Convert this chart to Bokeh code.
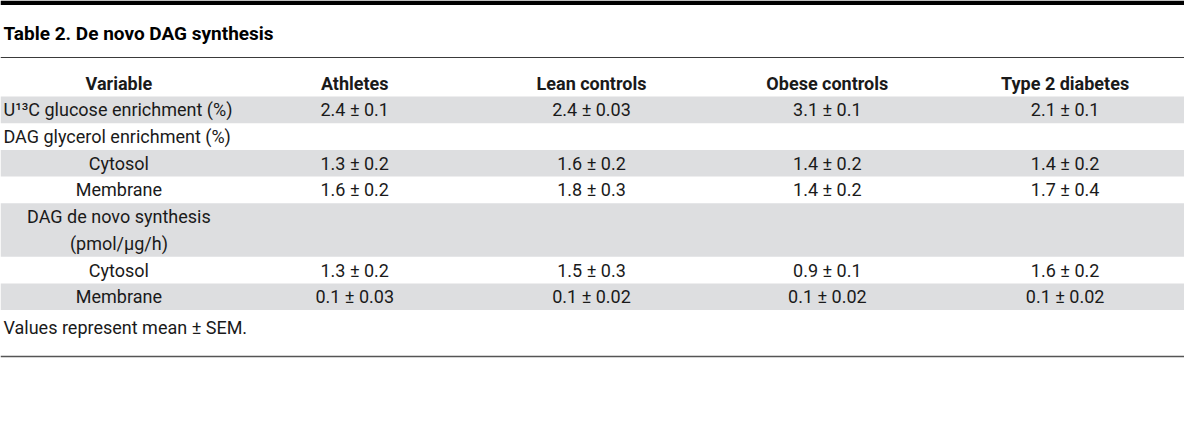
from bokeh.plotting import figure
from bokeh.models import Range1d, ColumnDataSource
from bokeh.core.properties import value
from bokeh.embed import file_html
from bokeh.resources import INLINE

# ---- data ----
title = "Table 2. De novo DAG synthesis"
header_first = "Variable"
groups = ["Athletes", "Lean controls", "Obese controls", "Type 2 diabetes"]
variables = ["U\u00b9\u00b3C glucose enrichment (%)", "DAG glycerol enrichment (%)",
             "Cytosol", "Membrane", "DAG de novo synthesis\n(pmol/\u00b5g/h)",
             "Cytosol", "Membrane"]
var_level = [0, 0, 1, 1, 1, 1, 1]
athletes = ["2.4 \u00b1 0.1", "", "1.3 \u00b1 0.2", "1.6 \u00b1 0.2", "", "1.3 \u00b1 0.2", "0.1 \u00b1 0.03"]
lean = ["2.4 \u00b1 0.03", "", "1.6 \u00b1 0.2", "1.8 \u00b1 0.3", "", "1.5 \u00b1 0.3", "0.1 \u00b1 0.02"]
obese = ["3.1 \u00b1 0.1", "", "1.4 \u00b1 0.2", "1.4 \u00b1 0.2", "", "0.9 \u00b1 0.1", "0.1 \u00b1 0.02"]
t2d = ["2.1 \u00b1 0.1", "", "1.4 \u00b1 0.2", "1.7 \u00b1 0.4", "", "1.6 \u00b1 0.2", "0.1 \u00b1 0.02"]
footnote = "Values represent mean \u00b1 SEM."

# ---- layout (reference pixel coordinates) ----
W, H = 1184, 432
FONT = "Roboto"
TXT = "#1a1a1a"
GRAY = "#dddee0"
BODY = "18px"
col_x = [120, 359, 599, 838, 1079]
left_x = 3
row_top0 = 96
line_h = 26.7
header_y = 83
title_y = 33

p = figure(width=W, height=H, output_backend="svg", toolbar_location=None,
           x_range=Range1d(0, 1200), y_range=Range1d(432, 0),
           min_border=0, outline_line_color=None, background_fill_color="white",
           border_fill_color="white")
p.axis.visible = False
p.grid.visible = False

# rows geometry
n_lines = [len(v.split("\n")) for v in variables]
tops, bots = [], []
t = row_top0
for n in n_lines:
    tops.append(t)
    t = t + line_h * n
    bots.append(t)

# stripes
gi = [i for i in range(len(variables)) if i % 2 == 0]
p.quad(left=[0] * len(gi), right=[1200] * len(gi),
       top=[tops[i] for i in gi], bottom=[bots[i] for i in gi],
       fill_color=GRAY, line_color=None)

# top bar, rules
p.quad(left=[0], right=[1200], top=[0], bottom=[4.5], fill_color="black", line_color=None)
p.segment(x0=[0], x1=[1200], y0=[57], y1=[57], line_color="#3a3a3a", line_width=1.2)
p.segment(x0=[0], x1=[1200], y0=[356], y1=[356], line_color="#555555", line_width=1.6)

# title
p.text(x=[left_x], y=[title_y], text=[title], text_font=value(FONT), text_font_style="bold",
       text_font_size="19px", text_color="black", text_baseline="middle", text_align="left")

# header
hdr = [header_first] + groups
p.text(x=col_x, y=[header_y] * len(hdr), text=hdr, text_font=value(FONT),
       text_font_style="bold", text_font_size=BODY, text_color=TXT,
       text_baseline="middle", text_align="center")

# variable column
lx, ly, lt, la = [], [], [], []
for i, v in enumerate(variables):
    for k, part in enumerate(v.split("\n")):
        lx.append(left_x if var_level[i] == 0 else col_x[0])
        ly.append(tops[i] + line_h * (k + 0.5))
        lt.append(part)
        la.append("left" if var_level[i] == 0 else "center")
src = ColumnDataSource(dict(x=lx, y=ly, t=lt, a=la))
p.text(x="x", y="y", text="t", text_align="a", source=src, text_font=value(FONT),
       text_font_size=BODY, text_color=TXT, text_baseline="middle")

# value columns
for cx, vals in zip(col_x[1:], [athletes, lean, obese, t2d]):
    ys = [tops[i] + line_h * 0.5 for i in range(len(vals))]
    p.text(x=[cx] * len(vals), y=ys, text=vals, text_font=value(FONT),
           text_font_size=BODY, text_color=TXT, text_baseline="middle", text_align="center")

# footnote
p.text(x=[left_x], y=[327], text=[footnote], text_font=value(FONT), text_font_size=BODY,
       text_color=TXT, text_baseline="middle", text_align="left")

open("out.html", "w").write(file_html(p, INLINE))
